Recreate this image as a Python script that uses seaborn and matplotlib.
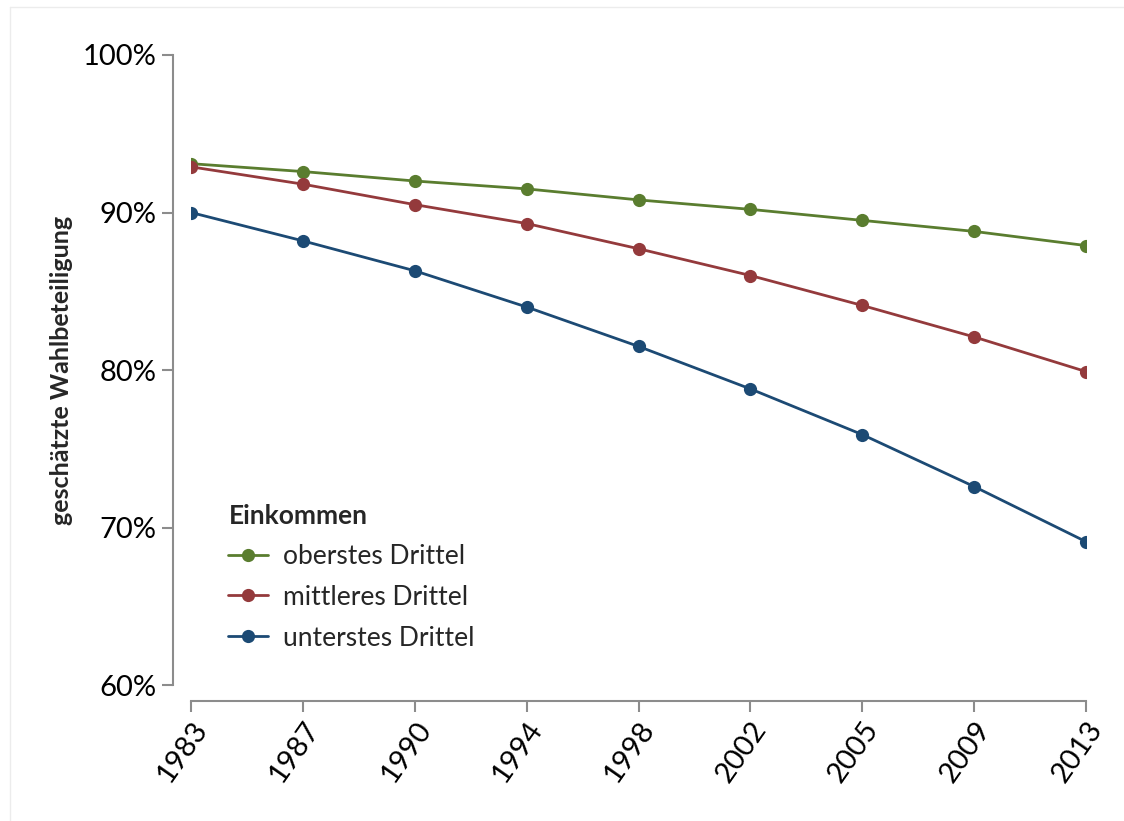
import matplotlib
matplotlib.use("Agg")
import matplotlib.pyplot as plt
import seaborn as sns
import pandas as pd
from matplotlib.lines import Line2D

years = ["1983", "1987", "1990", "1994", "1998", "2002", "2005", "2009", "2013"]
oberstes = [93.1, 92.6, 92.0, 91.5, 90.8, 90.2, 89.5, 88.8, 87.9]
mittleres = [92.9, 91.8, 90.5, 89.3, 87.7, 86.0, 84.1, 82.1, 79.9]
unterstes = [90.0, 88.2, 86.3, 84.0, 81.5, 78.8, 75.9, 72.6, 69.1]
series_names = ["oberstes Drittel", "mittleres Drittel", "unterstes Drittel"]
colors = ["#5a7d2f", "#943a3c", "#1c4a74"]
y_ticks = [60, 70, 80, 90, 100]
y_tick_labels = ["60%", "70%", "80%", "90%", "100%"]

sns.set_style("white")
FONT = ["Lato", "DejaVu Sans"]
plt.rcParams["font.family"] = FONT

rows = []
for name, vals in zip(series_names, [oberstes, mittleres, unterstes]):
    for i, (yr, v) in enumerate(zip(years, vals)):
        rows.append({"pos": i, "Jahr": yr, "Wert": v, "Einkommen": name})
df = pd.DataFrame(rows)

fig = plt.figure(figsize=(11.24, 8.21), dpi=100)
ax = fig.add_axes([191 / 1124, 1 - 685 / 821, (1086 - 191) / 1124, (685 - 55) / 821])

sns.lineplot(data=df, x="pos", y="Wert", hue="Einkommen", hue_order=series_names,
             palette=colors, marker="o", markersize=9.5, markeredgewidth=0,
             linewidth=2, ax=ax, legend=False)

for s in ["top", "right"]:
    ax.spines[s].set_visible(False)
ax.spines["left"].set_position(("outward", 13))
ax.spines["bottom"].set_position(("outward", 11.5))
for s in ["left", "bottom"]:
    ax.spines[s].set_color("#8c8c8c")
    ax.spines[s].set_linewidth(1.5)

ax.set_xlim(0, len(years) - 1)
ax.set_ylim(60, 100)
ax.set_xticks(range(len(years)))
ax.set_xticklabels(years, rotation=55, ha="right", rotation_mode="anchor", fontsize=21)
ax.set_yticks(y_ticks)
ax.set_yticklabels(y_tick_labels, fontsize=21)
ax.set_xlabel("")
ax.set_ylabel("geschätzte Wahlbeteiligung", fontsize=18, fontweight="bold", labelpad=7)

ax.tick_params(axis="both", which="major", direction="out", length=8, width=1.5,
               color="#8c8c8c", labelcolor="black", bottom=True, left=True, pad=4)
ax.tick_params(axis="x", pad=3)

handles = [Line2D([0], [0], color=c, marker="o", markersize=9.5, markeredgewidth=0, linewidth=2)
           for c in colors]
leg = ax.legend(handles, series_names, title="Einkommen", loc="lower left",
                bbox_to_anchor=(0.03, 0.038), frameon=False, fontsize=19,
                title_fontproperties={"weight": "bold", "size": 19},
                handlelength=1.5, handletextpad=0.55, labelspacing=0.6,
                borderaxespad=0)
leg._legend_box.align = "left"

fig.add_artist(Line2D([10 / 1124, 1], [1 - 7 / 821, 1 - 7 / 821], color="#ececec", lw=1))
fig.add_artist(Line2D([10 / 1124, 10 / 1124], [0, 1 - 7 / 821], color="#ececec", lw=1))

fig.savefig("out.png", dpi=100, facecolor="white")
